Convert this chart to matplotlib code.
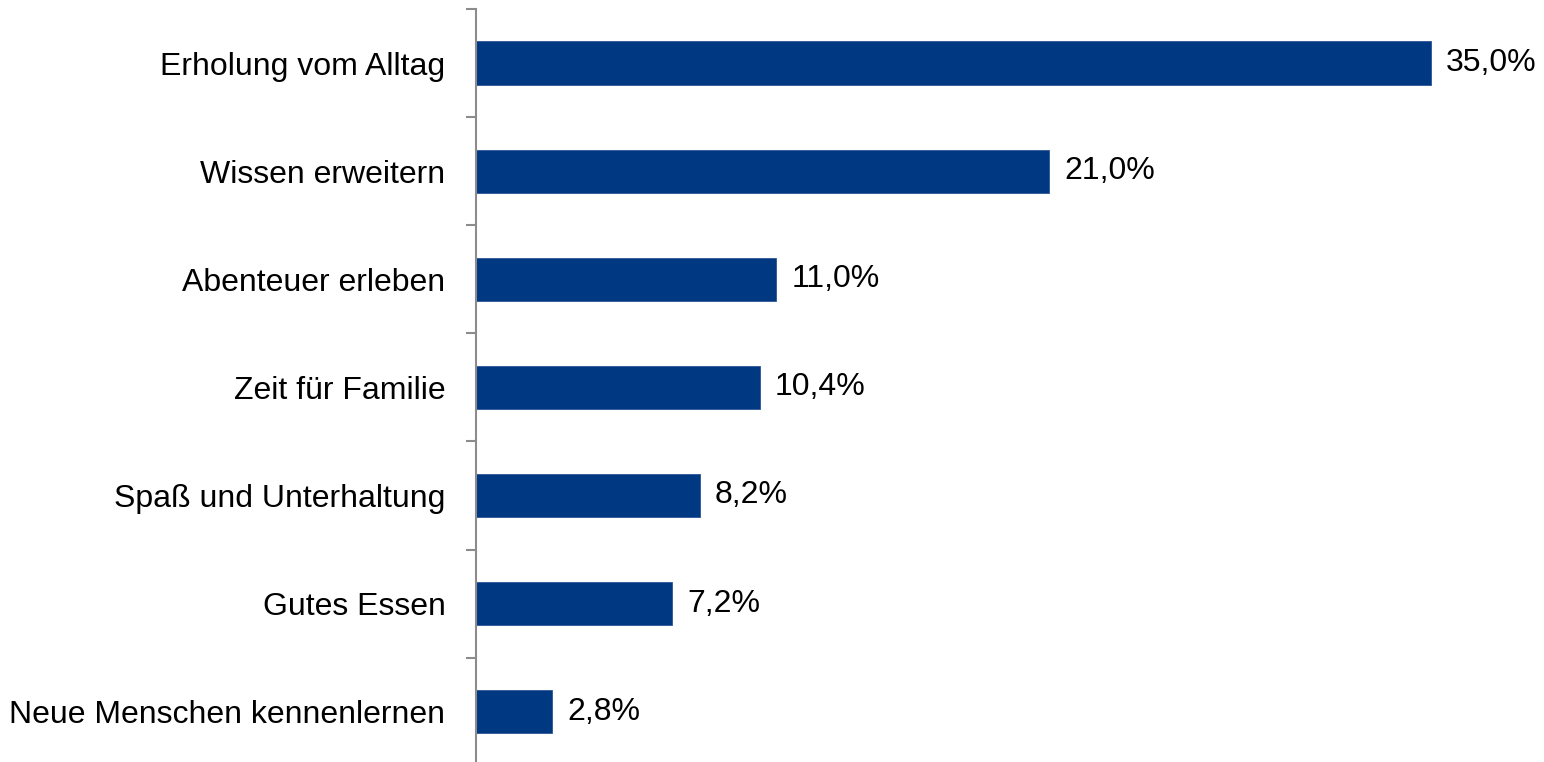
import matplotlib
matplotlib.use("Agg")
import matplotlib.pyplot as plt

categories = ["Erholung vom Alltag", "Wissen erweitern", "Abenteuer erleben",
              "Zeit für Familie", "Spaß und Unterhaltung", "Gutes Essen",
              "Neue Menschen kennenlernen"]
values = [35.0, 21.0, 11.0, 10.4, 8.2, 7.2, 2.8]

plt.rcParams['font.family'] = ['Liberation Sans', 'DejaVu Sans']

W, H = 1544, 762
fig = plt.figure(figsize=(W / 100, H / 100), dpi=100)
ax_left = 476 / W
ax_top = 9
ax_bottom = 9 + 7 * 108.1
ax = fig.add_axes([ax_left, (H - ax_bottom) / H, 1 - ax_left, (ax_bottom - ax_top) / H])

px_per_unit = (1431 - 476) / 35.0
xmax = (W - 476) / px_per_unit

n = len(categories)
ypos = list(range(n))
ax.barh(ypos, values, height=0.4, color='#003882', edgecolor='#2a5595', linewidth=0.6)
ax.set_ylim(n - 0.5, -0.5)
ax.set_xlim(0, xmax)

for y, v in zip(ypos, values):
    ax.text(v + 15 / px_per_unit, y, f"{v:.1f}%".replace('.', ','), va='center', ha='left',
            fontsize=23, color='black')

ax.set_yticks(ypos)
ax.set_yticklabels(categories, fontsize=23)
ax.tick_params(axis='y', which='major', length=0, pad=22)
ax.set_yticks([i - 0.5 for i in range(n + 1)], minor=True)
ax.tick_params(axis='y', which='minor', length=10 * 0.72, width=1.5, color='#8c8c8c', direction='out')
ax.set_xticks([])

for s in ['top', 'right', 'bottom']:
    ax.spines[s].set_visible(False)
ax.spines['left'].set_color('#8c8c8c')
ax.spines['left'].set_linewidth(1.5)

fig.savefig("out.png", dpi=100)
